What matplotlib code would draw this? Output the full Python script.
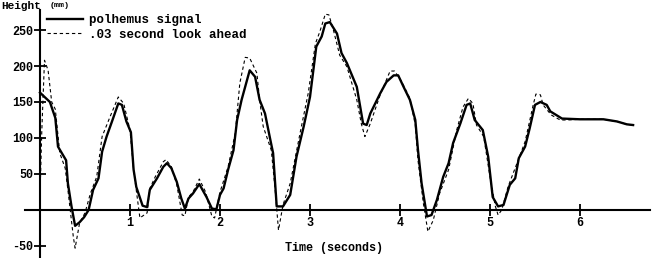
import matplotlib
matplotlib.use("Agg")
import matplotlib.pyplot as plt

# --- data ---
t_solid = [0.00, 0.11, 0.17, 0.20, 0.29, 0.31, 0.35, 0.39, 0.44, 0.49, 0.54, 0.59, 0.65, 0.69, 0.74,
           0.80, 0.87, 0.91, 0.96, 1.01, 1.04, 1.07, 1.14, 1.19, 1.22, 1.30, 1.37, 1.41, 1.46, 1.52,
           1.57, 1.61, 1.65, 1.70, 1.77, 1.85, 1.91, 1.96, 2.00, 2.04, 2.09, 2.15, 2.19, 2.24, 2.33,
           2.39, 2.44, 2.50, 2.56, 2.59, 2.63, 2.70, 2.78, 2.85, 2.93, 3.00, 3.07, 3.13, 3.17, 3.22,
           3.30, 3.35, 3.41, 3.52, 3.59, 3.63, 3.67, 3.78, 3.85, 3.93, 3.98, 4.04, 4.11, 4.17, 4.20,
           4.24, 4.30, 4.35, 4.41, 4.48, 4.54, 4.59, 4.67, 4.74, 4.78, 4.83, 4.92, 4.98, 5.03, 5.09,
           5.15, 5.22, 5.28, 5.32, 5.39, 5.44, 5.50, 5.56, 5.63, 5.67, 5.80, 6.00, 6.26, 6.41, 6.52,
           6.59]
v_solid = [163, 150, 128, 88, 69, 37, 5, -22, -17, -10, 0, 28, 44, 81, 102,
           123, 148, 146, 123, 108, 56, 32, 6, 4, 28, 44, 60, 65, 58, 39,
           16, 2, 16, 23, 36, 18, 2, 1, 21, 30, 56, 83, 125, 153, 194,
           185, 153, 134, 97, 79, 5, 5, 21, 74, 116, 157, 227, 241, 259, 261,
           245, 218, 204, 171, 120, 118, 134, 162, 178, 187, 187, 171, 153, 125, 83,
           37, -9, -7, 14, 46, 65, 93, 120, 146, 148, 125, 111, 74, 18, 5,
           7, 35, 44, 72, 88, 113, 146, 150, 146, 137, 127, 126, 126, 123, 119,
           118]

t_dash = [0.00, 0.02, 0.05, 0.09, 0.13, 0.17, 0.22, 0.28, 0.31, 0.37, 0.39, 0.44, 0.50, 0.56, 0.63,
          0.69, 0.78, 0.87, 0.93, 1.00, 1.04, 1.11, 1.19, 1.22, 1.28, 1.37, 1.40, 1.46, 1.52, 1.58,
          1.61, 1.65, 1.70, 1.77, 1.84, 1.91, 1.94, 2.00, 2.09, 2.17, 2.22, 2.28, 2.33, 2.41, 2.44,
          2.48, 2.57, 2.61, 2.65, 2.70, 2.78, 2.89, 2.98, 3.06, 3.11, 3.17, 3.21, 3.26, 3.33, 3.41,
          3.52, 3.57, 3.61, 3.67, 3.78, 3.89, 3.94, 4.02, 4.11, 4.17, 4.20, 4.26, 4.31, 4.37, 4.44,
          4.54, 4.63, 4.70, 4.76, 4.81, 4.85, 4.93, 5.00, 5.06, 5.09, 5.13, 5.20, 5.30, 5.39, 5.48,
          5.51, 5.56, 5.59, 5.68, 5.78, 5.86, 6.00, 6.26, 6.41, 6.52, 6.59]
v_dash = [20, 110, 208, 194, 150, 140, 79, 58, 28, -37, -53, -18, -4, 23, 46,
          102, 130, 157, 148, 111, 56, -11, -4, 30, 46, 67, 70, 60, 35, -7,
          -8, 18, 25, 43, 25, -9, -11, 25, 60, 107, 176, 212, 211, 190, 153,
          116, 83, 32, -28, 7, 37, 107, 162, 231, 248, 272, 271, 250, 215, 199,
          153, 120, 102, 120, 160, 193, 193, 178, 155, 118, 69, 9, -30, -14, 23,
          56, 111, 143, 155, 148, 118, 102, 46, 5, -7, 0, 32, 65, 95, 146,
          161, 160, 146, 132, 125, 125, 126, 126, 123, 119, 118]

x_ticks = [1, 2, 3, 4, 5, 6]
y_ticks = [-50, 50, 100, 150, 200, 250]
legend_labels = ["polhemus signal", ".03 second look ahead"]

FONT = "Liberation Mono"

fig = plt.figure(figsize=(6.53, 2.58), dpi=100)
ax = fig.add_axes([0, 0, 1, 1])
ax.patch.set_alpha(0)

# pixel mapping: x_pix = 40 + 90*t ; y_pix = 210 - 0.72*v
ax.set_xlim(-40 / 90, (653 - 40) / 90)
ax.set_ylim(-(258 - 210) / 0.72, 210 / 0.72)

ax.plot(t_dash, v_dash, color="black", lw=0.8, ls=(0, (3, 2.5)),
        label=legend_labels[1], zorder=2)
ax.plot(t_solid, v_solid, color="black", lw=1.7, label=legend_labels[0], zorder=3)

for s in ["top", "right"]:
    ax.spines[s].set_visible(False)
ax.spines["left"].set_position(("data", 0))
ax.spines["bottom"].set_position(("data", 0))
ax.spines["left"].set_bounds(-(258 - 210) / 0.72, (210 - 10) / 0.72)
ax.spines["bottom"].set_bounds(-15 / 90, (650 - 40) / 90)
for s in ["left", "bottom"]:
    ax.spines[s].set_linewidth(1.5)

ax.set_xticks(x_ticks)
ax.set_yticks(y_ticks)
ax.set_xticklabels([str(v) for v in x_ticks])
ax.set_yticklabels([str(v) for v in y_ticks])
ax.tick_params(direction="inout", length=8, width=1.3, pad=1)
for lab in ax.get_xticklabels() + ax.get_yticklabels():
    lab.set_fontfamily(FONT)
    lab.set_fontweight("bold")
    lab.set_fontsize(8.5)

handles, labels = ax.get_legend_handles_labels()
leg = ax.legend(handles[::-1], labels[::-1], loc="upper left",
                bbox_to_anchor=(47 / 653, 1 - 14 / 258), frameon=False,
                prop={"family": FONT, "weight": "bold", "size": 9},
                handlelength=2.9, handletextpad=0.45, labelspacing=0.2,
                borderpad=0, borderaxespad=0)

fig.text(1 / 653, 1 - 1 / 258, "Height", family=FONT, weight="bold",
         fontsize=8, ha="left", va="top")
fig.text(50 / 653, 1 - 2 / 258, "(mm)", family=FONT, weight="bold",
         fontsize=6, ha="left", va="top")
fig.text(334 / 653, 1 - 248 / 258, "Time (seconds)", family=FONT, weight="bold",
         fontsize=8.5, ha="center", va="center")

fig.savefig("out.png", dpi=100)
